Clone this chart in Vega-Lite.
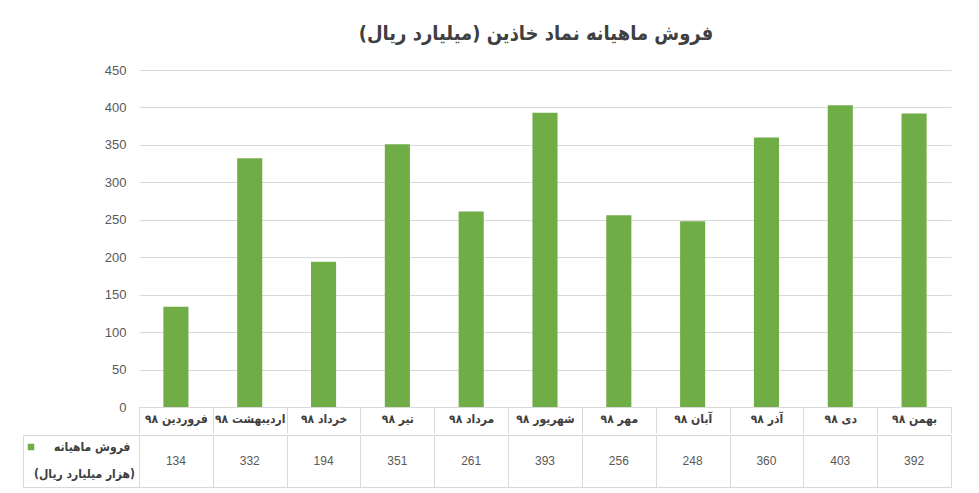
{
  "$schema": "https://vega.github.io/schema/vega-lite/v6.json",
  "background": "white",
  "padding": {"left": 22, "top": 24, "right": 28, "bottom": 6},
  "title": {
    "text": "\u200fفروش ماهیانه نماد خاذین  (میلیارد ریال)\u200f",
    "font": "DejaVu Sans Condensed",
    "fontSize": 20,
    "fontWeight": "bold",
    "color": "#404040",
    "anchor": "middle",
    "dx": 49,
    "offset": 20
  },
  "datasets": {
    "sales": [
      {"month": "۹۸ فروردین", "value": 134},
      {"month": "۹۸ اردیبهشت", "value": 332},
      {"month": "۹۸ خرداد", "value": 194},
      {"month": "۹۸ تیر", "value": 351},
      {"month": "۹۸ مرداد", "value": 261},
      {"month": "۹۸ شهریور", "value": 393},
      {"month": "۹۸ مهر", "value": 256},
      {"month": "۹۸ آبان", "value": 248},
      {"month": "۹۸ آذر", "value": 360},
      {"month": "۹۸ دی", "value": 403},
      {"month": "۹۸ بهمن", "value": 392}
    ]
  },
  "spacing": 0,
  "resolve": {"scale": {"x": "shared"}},
  "config": {
    "view": {"stroke": null},
    "axis": {"labelFont": "Liberation Sans", "labelColor": "#595959", "labelFontSize": 13}
  },
  "vconcat": [
    {
      "width": 812,
      "height": 337,
      "data": {"name": "sales"},
      "mark": {"type": "bar", "width": {"band": 0.34}},
      "encoding": {
        "x": {
          "field": "month",
          "type": "nominal",
          "sort": null,
          "scale": {"paddingInner": 0, "paddingOuter": 0},
          "axis": {
            "title": null,
            "labelAngle": 0,
            "domain": true,
            "domainColor": "#d9d9d9",
            "ticks": true,
            "tickBand": "extent",
            "tickSize": 26,
            "tickColor": "#d9d9d9",
            "labelPadding": -20,
            "labelFont": "DejaVu Sans Condensed",
            "labelFontWeight": "bold",
            "labelFontSize": 12,
            "labelColor": "#404040",
            "minExtent": 26,
            "maxExtent": 26
          }
        },
        "y": {
          "field": "value",
          "type": "quantitative",
          "scale": {"domain": [0, 450]},
          "axis": {
            "title": null,
            "values": [0, 50, 100, 150, 200, 250, 300, 350, 400, 450],
            "domain": false,
            "ticks": false,
            "grid": true,
            "gridColor": "#d9d9d9",
            "labelPadding": 13
          }
        },
        "color": {
          "datum": "فروش ماهیانه",
          "scale": {"range": ["#70AD47"]},
          "legend": {
            "orient": "none",
            "legendX": -114,
            "legendY": 371,
            "title": null,
            "symbolType": "square",
            "symbolSize": 42,
            "symbolStrokeWidth": 0,
            "padding": 0,
            "labelOffset": 17,
            "labelFont": "DejaVu Sans Condensed",
            "labelFontWeight": "bold",
            "labelFontSize": 12,
            "labelColor": "#404040"
          }
        }
      }
    },
    {
      "width": 812,
      "height": 52,
      "data": {"name": "sales"},
      "resolve": {"axis": {"y": "independent"}},
      "layer": [
        {
          "mark": {"type": "rect", "opacity": 0},
          "encoding": {
            "x": {
              "field": "month",
              "type": "nominal",
              "sort": null,
              "axis": {
                "title": null,
                "grid": true,
                "gridColor": "#d9d9d9",
                "tickBand": "extent",
                "domain": true,
                "domainColor": "#d9d9d9",
                "ticks": false,
                "labels": false
              }
            },
            "y": {
              "datum": "فروش ماهیانه",
              "type": "nominal",
              "scale": {"type": "band", "paddingInner": 0, "paddingOuter": 0},
              "axis": {
                "title": null,
                "orient": "left",
                "offset": 116,
                "domain": true,
                "domainColor": "#d9d9d9",
                "ticks": true,
                "tickBand": "extent",
                "tickSize": -116,
                "tickColor": "#d9d9d9",
                "grid": true,
                "gridColor": "#d9d9d9",
                "labels": false
              }
            }
          }
        },
        {
          "mark": {"type": "text", "font": "Liberation Sans", "fontSize": 12, "color": "#595959"},
          "encoding": {
            "x": {"field": "month", "type": "nominal", "sort": null},
            "y": {
              "datum": "فروش ماهیانه",
              "type": "nominal",
              "axis": {
                "title": null,
                "orient": "left",
                "domain": false,
                "ticks": false,
                "grid": false,
                "labelExpr": "'\u200f(هزار میلیارد ریال)\u200f'",
                "labelAlign": "center",
                "labelBaseline": "middle",
                "labelOffset": 13,
                "labelPadding": 55,
                "labelFont": "DejaVu Sans Condensed",
                "labelFontWeight": "bold",
                "labelFontSize": 12,
                "labelColor": "#404040"
              }
            },
            "text": {"field": "value", "type": "quantitative"}
          }
        }
      ]
    }
  ]
}
